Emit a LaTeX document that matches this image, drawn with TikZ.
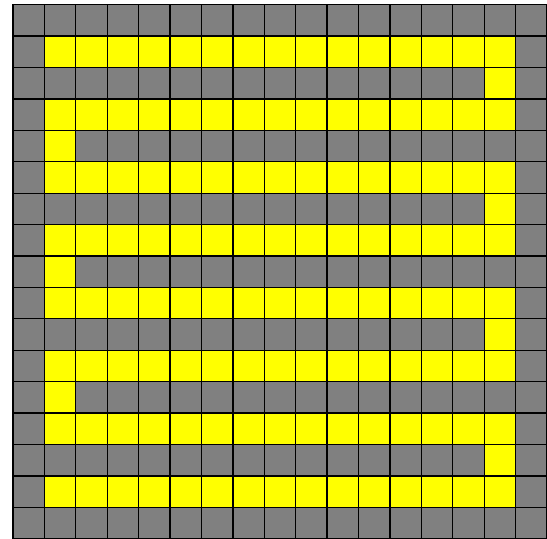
\documentclass[tikz,border=0pt]{standalone}
\definecolor{cellgray}{RGB}{128,128,128}
\definecolor{cellyellow}{RGB}{255,255,0}
\tikzset{
  grayc/.style={fill=cellgray,draw=black,line width=1.2pt},
  yellowc/.style={fill=cellyellow,draw=black,line width=1.2pt}
}
\begin{document}
\begin{tikzpicture}[x=1cm,y=1cm]
\useasboundingbox (-0.414,0) rectangle (17,17.15);
% row r (0 = top) occupies y from 16-r to 17-r
\foreach \r in {0,...,16}{
  \foreach \c in {0,...,16}{
    \pgfmathtruncatemacro{\yy}{16-\r}
    \pgfmathtruncatemacro{\isfull}{(\r>0)&&(\r<16)&&(mod(\r,2)==1)&&(\c>0)&&(\c<16)}
    \pgfmathtruncatemacro{\isright}{(mod(\r,4)==2)&&(\c==15)}
    \pgfmathtruncatemacro{\isleft}{(mod(\r,4)==0)&&(\r>0)&&(\r<16)&&(\c==1)}
    \pgfmathtruncatemacro{\isy}{\isfull||\isright||\isleft}
    \ifnum\isy=1
      \path[yellowc] (\c,\yy) rectangle ++(1,1);
    \else
      \path[grayc] (\c,\yy) rectangle ++(1,1);
    \fi
  }
}
\end{tikzpicture}
\end{document}
